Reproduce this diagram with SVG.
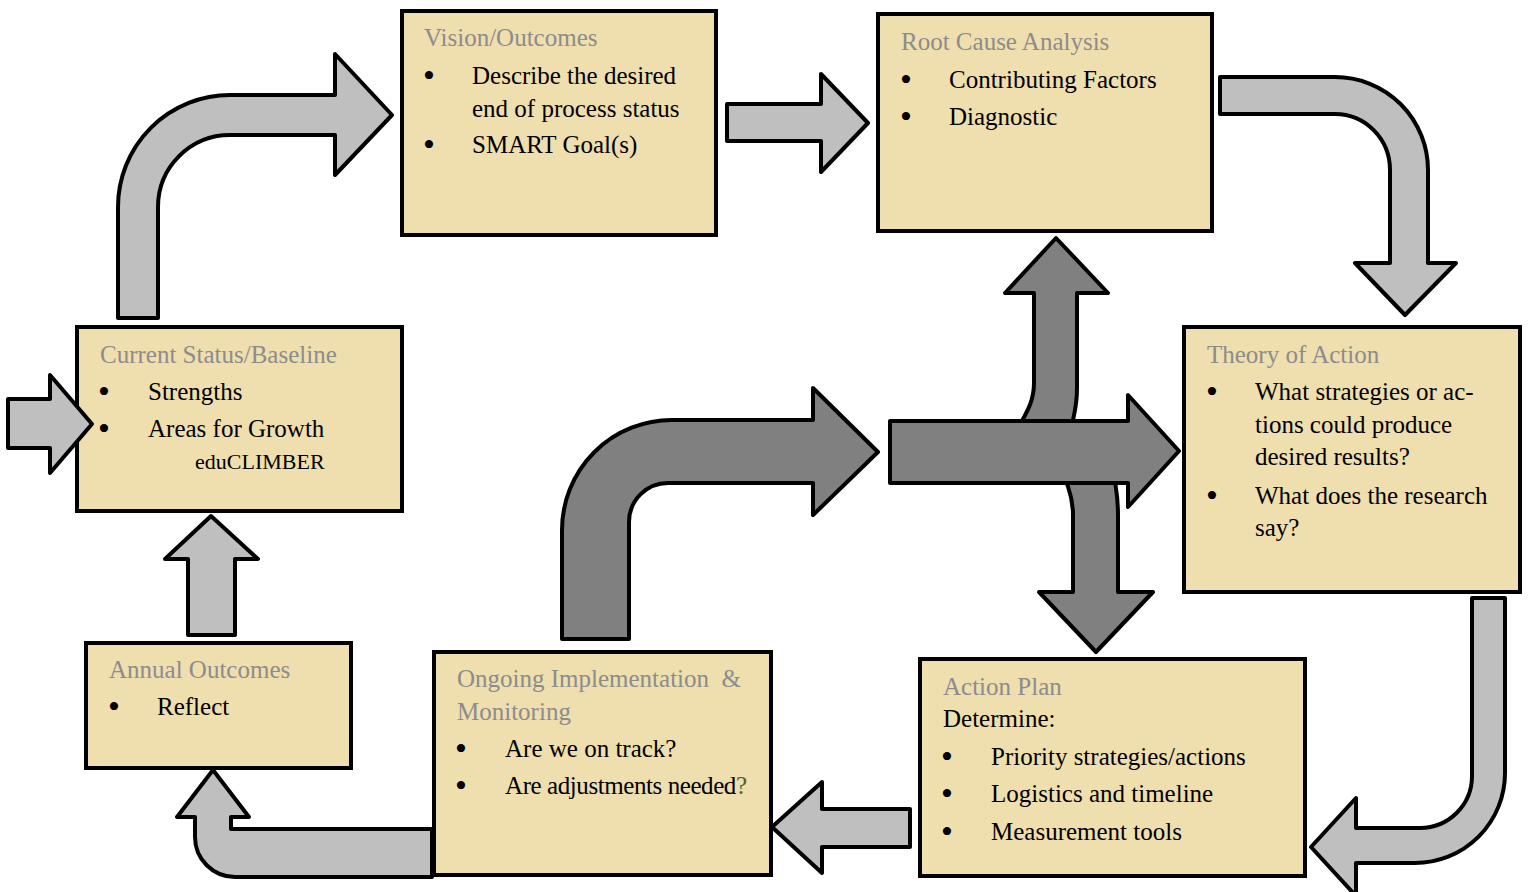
<svg xmlns="http://www.w3.org/2000/svg" width="1528" height="892" viewBox="0 0 1528 892">
  <style>
    .box { fill: #EFDEAE; stroke: #000; stroke-width: 4; }
    .light { fill: #BFBFBF; stroke: #000; stroke-width: 4; stroke-linejoin: round; }
    .dark { fill: #808080; stroke: #000; stroke-width: 4; stroke-linejoin: round; }
    text { font-family: "Liberation Serif", "DejaVu Serif", serif; font-size: 25px; fill: #000; }
    .title { fill: #8C8C8C; }
    .small { font-size: 22px; }
    .green { fill: #4F6228; }
    .bullet { font-size: 34px; }
  </style>

  <!-- Nodes -->
  <g id="vision">
    <rect class="box" x="402" y="11" width="314" height="224"/>
    <text class="title" x="424" y="46">Vision/Outcomes</text>
    <text class="bullet" x="423" y="87">•</text>
    <text x="472" y="84">Describe the desired</text>
    <text x="472" y="117">end of process status</text>
    <text class="bullet" x="423" y="156">•</text>
    <text x="472" y="153">SMART Goal(s)</text>
  </g>

  <g id="root-cause">
    <rect class="box" x="878" y="14" width="334" height="217"/>
    <text class="title" x="901" y="50">Root Cause Analysis</text>
    <text class="bullet" x="900" y="91">•</text>
    <text x="949" y="88">Contributing Factors</text>
    <text class="bullet" x="900" y="128">•</text>
    <text x="949" y="125">Diagnostic</text>
  </g>

  <g id="theory-of-action">
    <rect class="box" x="1184" y="327" width="336" height="265"/>
    <text class="title" x="1207" y="363">Theory of Action</text>
    <text class="bullet" x="1206" y="403">•</text>
    <text x="1255" y="400">What strategies or ac-</text>
    <text x="1255" y="433">tions could produce</text>
    <text x="1255" y="465">desired results?</text>
    <text class="bullet" x="1206" y="507">•</text>
    <text x="1255" y="504">What does the research</text>
    <text x="1255" y="536">say?</text>
  </g>

  <g id="action-plan">
    <rect class="box" x="920" y="659" width="385" height="217"/>
    <text class="title" x="943" y="695">Action Plan</text>
    <text x="943" y="727">Determine:</text>
    <text class="bullet" x="941" y="768">•</text>
    <text x="991" y="765">Priority strategies/actions</text>
    <text class="bullet" x="941" y="805">•</text>
    <text x="991" y="802">Logistics and timeline</text>
    <text class="bullet" x="941" y="843">•</text>
    <text x="991" y="840">Measurement tools</text>
  </g>

  <g id="ongoing-implementation">
    <rect class="box" x="434" y="652" width="337" height="223"/>
    <text class="title" x="457" y="687" xml:space="preserve">Ongoing Implementation  &amp;</text>
    <text class="title" x="457" y="720">Monitoring</text>
    <text class="bullet" x="455" y="760">•</text>
    <text x="505" y="757">Are we on track?</text>
    <text class="bullet" x="455" y="797">•</text>
    <text x="505" y="794" textLength="242">Are adjustments needed<tspan class="green">?</tspan></text>
  </g>

  <g id="annual-outcomes">
    <rect class="box" x="86" y="643" width="265" height="125"/>
    <text class="title" x="109" y="678">Annual Outcomes</text>
    <text class="bullet" x="108" y="718">•</text>
    <text x="157" y="715">Reflect</text>
  </g>

  <g id="current-status">
    <rect class="box" x="77" y="327" width="325" height="184"/>
    <text class="title" x="100" y="363">Current Status/Baseline</text>
    <text class="bullet" x="98" y="403">•</text>
    <text x="148" y="400">Strengths</text>
    <text class="bullet" x="98" y="440">•</text>
    <text x="148" y="437">Areas for Growth</text>
    <text class="small" x="195" y="469">eduCLIMBER</text>
  </g>

  <!-- Connectors -->
  <g id="connectors">
    <!-- entry arrow into Current Status -->
    <path class="light" d="M8,399 L50,399 L50,375 L92,424 L50,473 L50,448 L8,448 Z"/>
    <!-- Annual Outcomes up to Current Status -->
    <path class="light" d="M188,635 L188,559 L165,559 L211,516 L258,559 L235,559 L235,635 Z"/>
    <!-- Current Status up and over to Vision -->
    <path class="light" d="M118,318 L118,207 A112,112 0 0 1 230,95 L335,95 L335,54 L392,115 L335,175 L335,135 L230,135 A72,72 0 0 0 158,207 L158,318 Z"/>
    <!-- Vision to Root Cause -->
    <path class="light" d="M727,104 L821,104 L821,74 L868,123 L821,172 L821,141 L727,141 Z"/>
    <!-- Root Cause over and down to Theory of Action -->
    <path class="light" d="M1220,77 L1335,77 A93,93 0 0 1 1428,170 L1428,263 L1456,263 L1405,315 L1355,263 L1390,263 L1390,170 A55,56 0 0 0 1335,114 L1220,114 Z"/>
    <!-- Theory of Action down and round to Action Plan -->
    <path class="light" d="M1472,598 L1505,598 L1505,773 A90,90 0 0 1 1415,863 L1356,863 L1356,896 L1311,847 L1356,798 L1356,828 L1420,828 A52,52 0 0 0 1472,776 Z"/>
    <!-- Action Plan to Ongoing Implementation -->
    <path class="light" d="M910,809 L822,809 L822,782 L772,827 L822,873 L822,847 L910,847 Z"/>
    <!-- Ongoing Implementation round and up to Annual Outcomes -->
    <path class="light" d="M432,829 L231,829 L231,817 L249,817 L213,770 L177,817 L195,817 L195,837 A40,40 0 0 0 235,877 L432,877 Z"/>

    <!-- branch up to Root Cause (behind the main bar) -->
    <path class="dark" d="M1010,445 C1020,420 1034,408 1034,383 L1034,293 L1005,293 L1056,238 L1108,293 L1077,293 L1077,388 C1077,408 1072,425 1066,445 Z"/>
    <!-- branch down to Action Plan (behind the main bar) -->
    <path class="dark" d="M1056,462 C1066,478 1073,495 1073,515 L1073,592 L1039,592 L1096,652 L1153,592 L1118,592 L1118,515 C1118,495 1115,478 1110,462 Z"/>
    <!-- main bar to Theory of Action -->
    <path class="dark" d="M890,421 L1128,421 L1128,395 L1179,451 L1128,507 L1128,483 L890,483 Z"/>
    <!-- Ongoing Implementation up and over -->
    <path class="dark" d="M562,639 L562,530 A110,110 0 0 1 672,420 L813,420 L813,388 L878,452 L813,515 L813,483 L668,483 A39,39 0 0 0 629,522 L629,639 Z"/>
  </g>
</svg>
